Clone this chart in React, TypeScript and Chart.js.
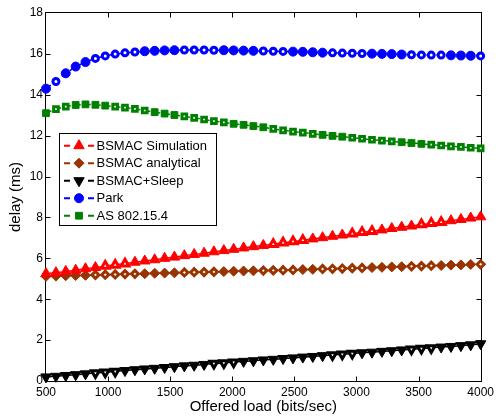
import React, { useEffect, useRef } from 'react';
import { Chart, registerables } from 'chart.js';
import { drawPoint } from 'chart.js/helpers';

Chart.register(...registerables);

// ---------- data ----------
const offeredLoad = [
  500, 580, 659, 739, 818, 898, 977, 1057, 1136, 1216, 1295, 1375, 1455, 1534, 1614,
  1693, 1773, 1852, 1932, 2011, 2091, 2170, 2250, 2330, 2409, 2489, 2568, 2648, 2727,
  2807, 2886, 2966, 3045, 3125, 3205, 3284, 3364, 3443, 3523, 3602, 3682, 3761, 3841,
  3920, 4000,
];

const bsmacSimulation = [
  5.25, 5.3, 5.36, 5.42, 5.49, 5.55, 5.62, 5.68, 5.74, 5.81, 5.87, 5.93, 6.0, 6.06, 6.13,
  6.19, 6.25, 6.32, 6.38, 6.44, 6.51, 6.57, 6.63, 6.69, 6.76, 6.82, 6.88, 6.95, 7.01,
  7.08, 7.14, 7.2, 7.27, 7.33, 7.39, 7.46, 7.52, 7.58, 7.65, 7.71, 7.77, 7.84, 7.9,
  7.97, 8.03,
];

const bsmacAnalytical = [
  5.12, 5.13, 5.15, 5.16, 5.17, 5.19, 5.2, 5.21, 5.23, 5.24, 5.25, 5.27, 5.28, 5.29, 5.31,
  5.32, 5.33, 5.34, 5.35, 5.37, 5.38, 5.39, 5.4, 5.41, 5.42, 5.43, 5.45, 5.46, 5.48,
  5.49, 5.5, 5.52, 5.53, 5.55, 5.56, 5.58, 5.59, 5.61, 5.62, 5.64, 5.65, 5.67, 5.68,
  5.7, 5.71,
];

const bsmacSleep = [
  0.2, 0.23, 0.27, 0.31, 0.35, 0.39, 0.43, 0.47, 0.51, 0.55, 0.59, 0.62, 0.66, 0.7, 0.74,
  0.77, 0.81, 0.85, 0.88, 0.92, 0.96, 0.99, 1.03, 1.06, 1.1, 1.13, 1.17, 1.2, 1.24,
  1.27, 1.31, 1.34, 1.38, 1.41, 1.45, 1.48, 1.52, 1.55, 1.59, 1.62, 1.66, 1.69, 1.73,
  1.77, 1.82,
];

const park = [
  14.3, 14.65, 15.05, 15.38, 15.6, 15.78, 15.9, 15.99, 16.05, 16.09, 16.13, 16.15, 16.17,
  16.18, 16.19, 16.19, 16.19, 16.18, 16.18, 16.17, 16.16, 16.15, 16.14, 16.13, 16.12,
  16.11, 16.1, 16.08, 16.06, 16.05, 16.04, 16.03, 16.02, 16.01, 16.0, 15.99, 15.97,
  15.96, 15.95, 15.94, 15.94, 15.93, 15.92, 15.91, 15.9,
];

const as802154 = [
  13.1, 13.3, 13.42, 13.5, 13.53, 13.51, 13.47, 13.42, 13.37, 13.31, 13.23, 13.15, 13.08,
  13.01, 12.94, 12.87, 12.79, 12.71, 12.65, 12.58, 12.53, 12.47, 12.41, 12.33, 12.26,
  12.2, 12.15, 12.09, 12.04, 11.99, 11.95, 11.9, 11.85, 11.8, 11.76, 11.72, 11.68,
  11.64, 11.6, 11.56, 11.52, 11.48, 11.45, 11.41, 11.38,
];

const xTickValues = [500, 1000, 1500, 2000, 2500, 3000, 3500, 4000];
const yTickValues = [0, 2, 4, 6, 8, 10, 12, 14, 16, 18];

const seriesNames = ['BSMAC Simulation', 'BSMAC analytical', 'BSMAC+Sleep', 'Park', 'AS 802.15.4'];
const seriesValues = [bsmacSimulation, bsmacAnalytical, bsmacSleep, park, as802154];

// ---------- styles ----------
// marker look per point (F = filled, H = ring with light centre, as in the picture)
const seriesStyles = [
  { color: '#ff0000', pointStyle: 'triangle', radius: 6, rotation: 0,
    look: 'FFFFFFHHHFFFFFFFFFFFFFFHHHHFFFFHHHFFFFHHHFFFF' },
  { color: '#993300', pointStyle: 'rectRot', radius: 5, rotation: 0,
    look: 'FFFFFHHHHHFFFFHHHHFFFFHHHHFFHHHHHFFFFHHHFFFFH' },
  { color: '#000000', pointStyle: 'triangle', radius: 6, rotation: 180,
    look: 'FFFFFHHHFFFFFFFFFHHHFFFFFFFFFHHHFFFFFHHHFFFFF' },
  { color: '#0000ff', pointStyle: 'circle', radius: 4.5, rotation: 0,
    look: 'FHFFFHHHHHFFFFHHHHFFFFHHHFFFFHHHHFFFFHHHHFFFH' },
  { color: '#008000', pointStyle: 'rect', radius: 4.8, rotation: 0,
    look: 'FHHFFFFHHHHFFFHHHHHFFFFHHHHHFFFHHHHHFFFHHHHHH' },
];

const FONT = '"Liberation Sans", Arial, Helvetica, sans-serif';

const framePlugin = {
  id: 'matlabFrame',
  beforeDatasetsDraw(chart: any) {
    const { ctx, chartArea, scales } = chart;
    const { left, right, top, bottom } = chartArea;
    ctx.save();
    ctx.strokeStyle = '#000';
    ctx.lineWidth = 1;
    const L = Math.round(left) - 0.5;
    const R = Math.round(right) + 0.5;
    const T = Math.round(top) - 0.5;
    const B = Math.round(bottom) + 0.5;
    ctx.strokeRect(L, T, R - L, B - T);
    const tl = 5;
    ctx.beginPath();
    xTickValues.forEach((v) => {
      const px = Math.round(scales.x.getPixelForValue(v)) + 0.5;
      if (px <= L + 1 || px >= R - 1) return;
      ctx.moveTo(px, B);
      ctx.lineTo(px, B - tl);
      ctx.moveTo(px, T);
      ctx.lineTo(px, T + tl);
    });
    yTickValues.forEach((v) => {
      const py = Math.round(scales.y.getPixelForValue(v)) + 0.5;
      if (py <= T + 1 || py >= B - 1) return;
      ctx.moveTo(L, py);
      ctx.lineTo(L + tl, py);
      ctx.moveTo(R, py);
      ctx.lineTo(R - tl, py);
    });
    ctx.stroke();
    ctx.restore();
  },
};

const legendPlugin = {
  id: 'matlabLegend',
  afterDraw(chart: any) {
    const ctx = chart.ctx;
    ctx.save();
    ctx.fillStyle = '#ffffff';
    ctx.fillRect(59, 133, 158, 93);
    ctx.strokeStyle = '#000';
    ctx.lineWidth = 1;
    ctx.strokeRect(59.5, 133.5, 157, 92);
    seriesStyles.forEach((s, i) => {
      const y = 145.7 + i * 17.5;
      ctx.strokeStyle = s.color;
      ctx.lineWidth = 2;
      ctx.setLineDash([]);
      ctx.beginPath();
      ctx.moveTo(64, y);
      ctx.lineTo(70, y);
      ctx.moveTo(88, y);
      ctx.lineTo(94, y);
      ctx.stroke();
      ctx.fillStyle = s.color;
      ctx.strokeStyle = s.color;
      ctx.lineWidth = 1;
      drawPoint(ctx, { pointStyle: s.pointStyle, radius: s.radius, rotation: s.rotation, borderWidth: 1 } as any, 79, y);
      ctx.fillStyle = '#000';
      ctx.font = `13px ${FONT}`;
      ctx.textBaseline = 'middle';
      ctx.textAlign = 'left';
      ctx.fillText(seriesNames[i], 96.5, y + 0.5);
    });
    ctx.restore();
  },
};

export default function App() {
  const canvasRef = useRef<HTMLCanvasElement | null>(null);

  useEffect(() => {
    if (!canvasRef.current) return;
    Chart.defaults.font.family = FONT;
    const datasets = seriesValues.map((vals, si) => {
      const s = seriesStyles[si];
      const hollow = (i: number) => s.look[i] === 'H';
      return {
        label: seriesNames[si],
        data: offeredLoad.map((x, i) => ({ x, y: vals[i] })),
        borderColor: s.color,
        backgroundColor: s.color,
        borderWidth: 1.5,
        borderDash: [6, 4],
        tension: 0,
        fill: false,
        clip: false as any,
        pointStyle: s.pointStyle as any,
        pointRotation: s.rotation,
        pointRadius: (c: any) => (hollow(c.dataIndex) ? s.radius - 1.5 : s.radius),
        pointBorderWidth: (c: any) => (hollow(c.dataIndex) ? 3 : 1),
        pointBackgroundColor: (c: any) => (hollow(c.dataIndex) ? '#ffffff' : s.color),
        pointBorderColor: s.color,
        pointHoverRadius: s.radius,
      };
    });

    const chart = new Chart(canvasRef.current, {
      type: 'line',
      data: { datasets: datasets as any },
      options: {
        responsive: false,
        animation: false,
        devicePixelRatio: 1,
        events: [],
        layout: { padding: { left: 0, right: 13, top: 13, bottom: 0 } },
        plugins: { legend: { display: false }, tooltip: { enabled: false } },
        scales: {
          x: {
            type: 'linear',
            min: 500,
            max: 4000,
            afterBuildTicks: (scale: any) => {
              scale.ticks = xTickValues.map((v) => ({ value: v }));
            },
            afterFit: (scale: any) => {
              scale.height = 36;
            },
            grid: { display: false, drawTicks: false, tickLength: 0 },
            border: { display: false },
            ticks: {
              color: '#000',
              font: { size: 12, family: FONT },
              padding: 4,
              maxRotation: 0,
              autoSkip: false,
              callback: (v: any) => String(v),
            },
            title: {
              display: true,
              text: 'Offered load (bits/sec)',
              color: '#000',
              font: { size: 15, family: FONT },
              padding: { top: 0, bottom: 1 },
            },
          },
          y: {
            type: 'linear',
            min: 0,
            max: 18,
            afterBuildTicks: (scale: any) => {
              scale.ticks = yTickValues.map((v) => ({ value: v }));
            },
            afterFit: (scale: any) => {
              scale.width = 46;
            },
            grid: { display: false, drawTicks: false, tickLength: 0 },
            border: { display: false },
            ticks: {
              color: '#000',
              font: { size: 12, family: FONT },
              padding: 3,
              autoSkip: false,
              callback: (v: any) => String(v),
            },
            title: {
              display: true,
              text: 'delay (ms)',
              color: '#000',
              font: { size: 15, family: FONT },
              padding: { top: 7, bottom: 0 },
            },
          },
        },
      },
      plugins: [framePlugin, legendPlugin],
    });
    return () => chart.destroy();
  }, []);

  return (
    <div style={{ position: 'fixed', left: 0, top: 0, width: 498, height: 417, background: '#fff' }}>
      <canvas ref={canvasRef} width={498} height={417} style={{ display: 'block' }} />
    </div>
  );
}
